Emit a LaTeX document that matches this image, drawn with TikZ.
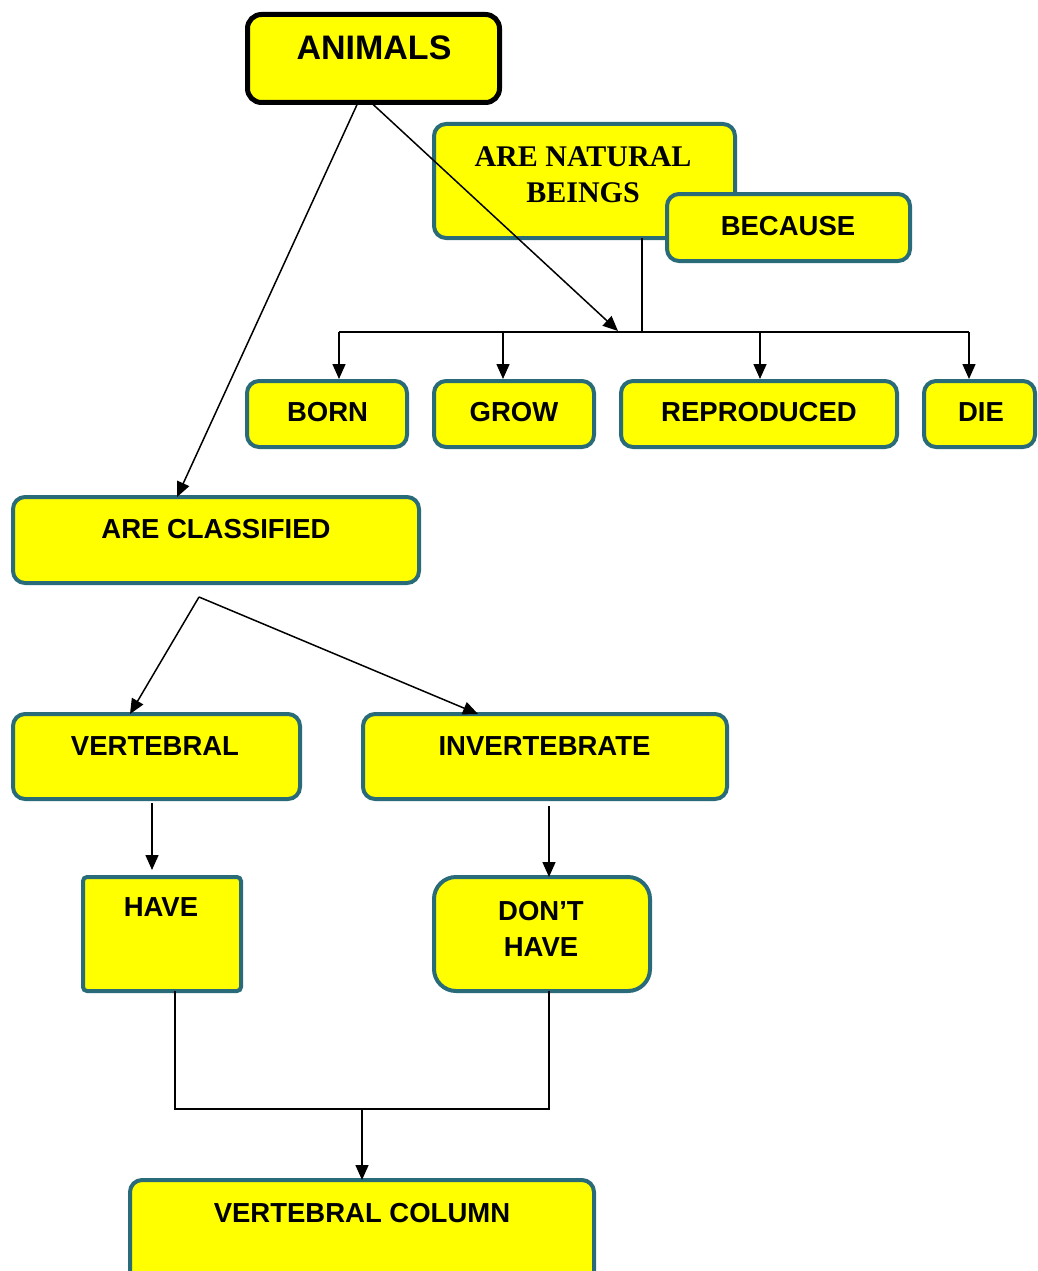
\documentclass[tikz,border=0pt]{standalone}
\usepackage{fontspec}
\setmainfont{Liberation Sans}
\newfontfamily\timesfont{Liberation Serif}
\usetikzlibrary{arrows.meta}
\definecolor{boxfill}{RGB}{255,255,0}
\definecolor{boxline}{RGB}{42,107,122}
\begin{document}
\begin{tikzpicture}[x=1pt,y=-1pt,
  box/.style={draw=boxline, line width=4pt, fill=boxfill, rounded corners=12pt,
              anchor=north west, inner sep=0pt, outer sep=0pt},
  lbl/.style={font=\fontsize{27.5}{36}\selectfont\bfseries, inner sep=0pt, align=center},
  conn/.style={line width=1.5pt},
  arr/.style={conn, -{Triangle[length=15pt,width=13pt]}}]
\useasboundingbox (0,0) rectangle (1037,1271);
\clip (0,0) rectangle (1037,1271);

% top concept
\node[box, draw=black, line width=5pt, rounded corners=14pt,
      minimum width=252pt, minimum height=88pt] (animals) at (247.5,14.5) {};
\node[lbl, font=\fontsize{34}{40}\selectfont\bfseries] (animals-t) at (374,48) {ANIMALS};

% natural beings
\node[box, minimum width=301pt, minimum height=114pt] (natural) at (434,124) {};
\node[lbl, font=\fontsize{30}{36}\selectfont\timesfont\bfseries] (natural-t) at (583,175) {ARE NATURAL\\BEINGS};

% bus towards the four life stages
\coordinate (b1) at (339,332);
\coordinate (b2) at (503,332);
\coordinate (bm) at (642,332);
\coordinate (b3) at (760,332);
\coordinate (b4) at (969,332);
\coordinate (tipbus) at (618,331);

\draw[arr] ([xshift=-2.5pt]animals.south) -- (tipbus);

\node[box, minimum width=243pt, minimum height=67pt] (because) at (667,194) {};
\node[lbl] (because-t) at (788,226) {BECAUSE};

\draw[conn] ([xshift=57.5pt]natural.south) -- (bm);
\draw[conn] (b1) -- (b4);

% life stages
\node[box, minimum width=160pt, minimum height=66pt] (born) at (247,381) {};
\node[box, minimum width=160pt, minimum height=66pt] (grow) at (434,381) {};
\node[box, minimum width=276pt, minimum height=66pt] (repro) at (621,381) {};
\node[box, minimum width=111pt, minimum height=66pt] (die) at (924,381) {};
\node[lbl] (born-t) at (327.5,412) {BORN};
\node[lbl] (grow-t) at (514,412) {GROW};
\node[lbl] (repro-t) at (759,412) {REPRODUCED};
\node[lbl] (die-t) at (981,412) {DIE};

\draw[arr, shorten >=2pt] (b1) -- (b1 |- born.north);
\draw[arr, shorten >=2pt] (b2) -- (b2 |- grow.north);
\draw[arr, shorten >=2pt] (b3) -- (b3 |- repro.north);
\draw[arr, shorten >=2pt] (b4) -- (b4 |- die.north);

% classification
\node[box, minimum width=406pt, minimum height=86pt] (classified) at (13,497) {};
\node[lbl] (classified-t) at (216,529) {ARE CLASSIFIED};
\draw[arr] ([xshift=-15.5pt]animals.south) -- ([xshift=-39pt]classified.north);

\coordinate (split) at (199,597);
\node[box, minimum width=287pt, minimum height=85pt] (vertebral) at (13,714) {};
\node[box, minimum width=364pt, minimum height=85pt] (invertebrate) at (363,714) {};
\node[lbl] (vertebral-t) at (155,746) {VERTEBRAL};
\node[lbl] (invertebrate-t) at (544.5,746) {INVERTEBRATE};
\draw[arr] (split) -- ([xshift=-26.5pt]vertebral.north);
\draw[arr] (split) -- ([xshift=-67pt]invertebrate.north);

% have / don't have
\node[box, rounded corners=4pt, minimum width=158pt, minimum height=114pt] (have) at (83,877) {};
\node[box, rounded corners=22pt, minimum width=216pt, minimum height=114pt] (dont) at (434,877) {};
\node[lbl] (have-t) at (161,907) {HAVE};
\node[lbl] (dont-t) at (541,929) {DON’T\\HAVE};
\draw[arr, shorten >=7pt] ([xshift=-4.5pt,yshift=-4pt]vertebral.south) -- ([xshift=-10pt]have.north);
\draw[arr] ([xshift=4pt,yshift=-7pt]invertebrate.south) -- ([xshift=7pt]dont.north);

% vertebral column
\coordinate (join) at (362,1109);
\node[box, minimum width=464pt, minimum height=120pt] (column) at (130,1180) {};
\node[lbl] (column-t) at (362,1213) {VERTEBRAL COLUMN};
\draw[conn] ([xshift=13pt]have.south) |- (join) -| ([xshift=7pt]dont.south);
\draw[arr] (join) -- (column.north);
\end{tikzpicture}
\end{document}
